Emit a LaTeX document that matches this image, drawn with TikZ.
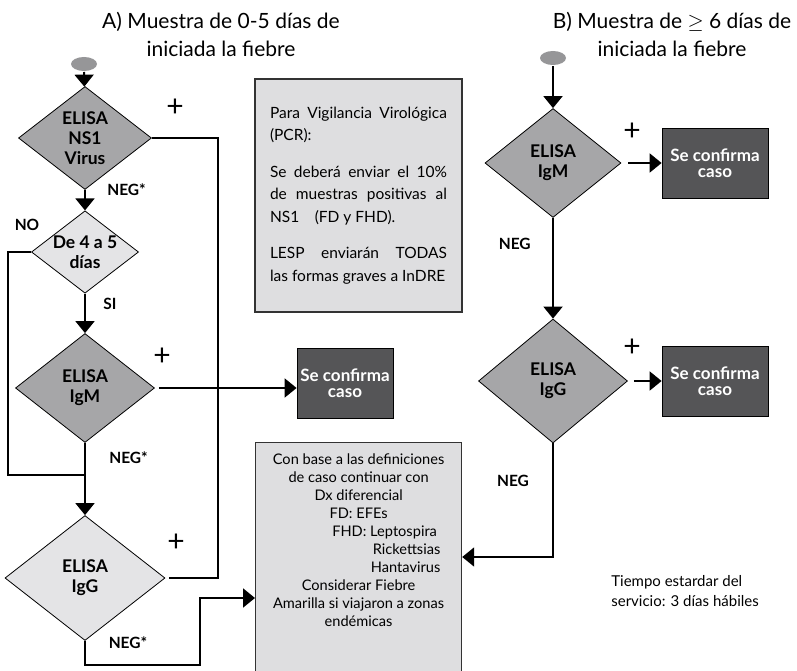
\documentclass[tikz,border=0pt]{standalone}
\usepackage{fontspec}
\setmainfont{Lato}
\usetikzlibrary{arrows.meta,shapes.geometric,positioning}

\definecolor{darkdiam}{RGB}{166,166,168}
\definecolor{lightdiam}{RGB}{228,228,230}
\definecolor{boxfill}{RGB}{222,222,224}
\definecolor{confirm}{RGB}{85,85,87}
\definecolor{startfill}{RGB}{150,150,152}

\begin{document}
\begin{tikzpicture}[x=1pt, y=-1pt, >={Triangle[width=19pt,length=12pt]}, line width=2pt,
    test/.style={diamond, aspect=1.3, draw=black, line width=0.8pt, inner sep=0pt, align=center,
                 font=\fontsize{17.5}{20}\selectfont\bfseries},
    darktest/.style={test, fill=darkdiam},
    lighttest/.style={test, fill=lightdiam},
    startdot/.style={ellipse, fill=startfill, minimum width=26pt, minimum height=14pt, inner sep=0pt},
    confirmbox/.style={rectangle, draw=black, line width=0.8pt, fill=confirm, text=white, align=center,
                 minimum height=70pt, font=\fontsize{17}{16}\selectfont\bfseries},
    infobox/.style={rectangle, draw=black!80, line width=1.2pt, fill=boxfill},
    lbl/.style={font=\fontsize{15.5}{18}\selectfont\bfseries},
    plus/.style={font=\fontsize{30}{30}\selectfont},
    headline/.style={align=center, font=\fontsize{21}{28}\selectfont}]

    \useasboundingbox (0,0) rectangle (797,671);

    % Titles
    \node [headline] (titleA) at (221,34) {A) Muestra de 0-5 días de\\iniciada la fiebre};
    \node [headline] (titleB) at (672,34) {B) Muestra de $\geq$ 6 días de\\iniciada la fiebre};

    % Nodes A {start, NS1, dias, IgM, IgG}
    \node [startdot]                                          (s1)    at (84,64)   {};
    \node [darktest, minimum width=133pt, minimum height=103pt]  (ns1)   at (85,138)  {ELISA\\NS1\\Virus};
    \node [lighttest, minimum width=102pt, minimum height=79pt]  (dias)  at (85,252)  {De 4 a 5\\días};
    \node [darktest, minimum width=139pt, minimum height=109pt]  (igmA)  at (85,388)  {ELISA\\IgM};
    \node [lighttest, minimum width=160pt, minimum height=125pt] (iggA)  at (85,578)  {ELISA\\IgG};
    \node [confirmbox, minimum width=96pt]                    (confA) at (345,383) {Se confirma\\caso};
    \coordinate (join)   at (85,475);
    \coordinate (noturn) at (8,475);
    \coordinate (bend)   at (200,665);

    % Nodes B {start, IgM, IgG}
    \node [startdot]                                          (s2)     at (553,58)  {};
    \node [darktest, minimum width=136pt, minimum height=109pt]  (igmB)   at (553,163) {ELISA\\IgM};
    \node [darktest, minimum width=149pt, minimum height=124pt]  (iggB)   at (553,381) {ELISA\\IgG};
    \node [confirmbox, minimum width=106pt]                   (confB1) at (715,163) {Se confirma\\caso};
    \node [confirmbox, minimum width=106pt]                   (confB2) at (715,381) {Se confirma\\caso};

    % Boxes
    \node [infobox, text width=177pt, inner xsep=15pt, inner ysep=0pt, minimum height=233pt, align=justify,
           font=\fontsize{15.5}{22.5}\selectfont] (pcr) at (358.5,195.5)
          {Para Vigilancia Virológica\linebreak (PCR):\\[14pt]
           Se deberá enviar el 10\%\linebreak de muestras positivas al\linebreak NS1\quad (FD y FHD).\\[14pt]
           LESP enviarán TODAS\linebreak las formas graves a InDRE};
    \node [infobox, anchor=north west, minimum width=206pt, minimum height=240pt] (dx) at (255,442) {};
    \node [align=center, font=\fontsize{14.6}{18}\selectfont, below=7pt of dx.north] (dxtext)
          {Con base a las definiciones\\
           de caso continuar con\\
           Dx diferencial\\
           FD: EFEs\hspace*{34pt}\\
           \hspace*{52pt}FHD: Leptospira\\
           \hspace*{96pt}Rickettsias\\
           \hspace*{94pt}Hantavirus\\
           Considerar Fiebre\\
           Amarilla si viajaron a zonas\\
           endémicas};
    \node [align=left, anchor=west, font=\fontsize{15}{20}\selectfont] (tiempo) at (607,591)
          {Tiempo estardar del\\servicio: 3 días hábiles};

    % Labels
    \node [plus] (p1) at (175,108) {+};
    \node [plus] (p2) at (162,357) {+};
    \node [plus] (p3) at (176,543) {+};
    \node [plus] (p4) at (632,132) {+};
    \node [plus] (p5) at (632,348) {+};
    \node [lbl]  (no)   at (27,225)  {NO};
    \node [lbl]  (neg3) at (128,643) {NEG*};
    \node [lbl]  (neg5) at (513,481) {NEG};

    % Paths A
    \path [->] (s1)   edge                                              (ns1);
    \path [->] (ns1)  edge node [lbl, at start, right=18pt] {NEG*}      (dias);
    \path [->] (dias) edge node [lbl, pos=0.25, right=14pt] {SI}        (igmA);
    \path [->] (igmA) edge node [lbl, pos=0.2, right=20pt]  {NEG*}      (iggA);
    \path [->] (igmA.east) edge [shorten <=4pt]                         (igmA.east -| confA.west);
    \draw (dias.west) -| (noturn) -- (join);
    \draw [shorten >=4pt] (ns1.east) -- ++(66,0) |- (iggA.east);
    \draw [->] (iggA.south) |- (bend) |- (dx.west |- 0,598);

    % Paths B
    \path [->] (s2)   edge                                              (igmB);
    \path [->] (igmB) edge node [lbl, pos=0.26, left=18pt] {NEG}        (iggB);
    \path [->] (igmB) edge [shorten <=7pt]                              (confB1);
    \path [->] (iggB) edge [shorten <=6pt]                              (confB2);
    \draw [->] (iggB.south) |- (dx.east |- 0,557);

\end{tikzpicture}
\end{document}
